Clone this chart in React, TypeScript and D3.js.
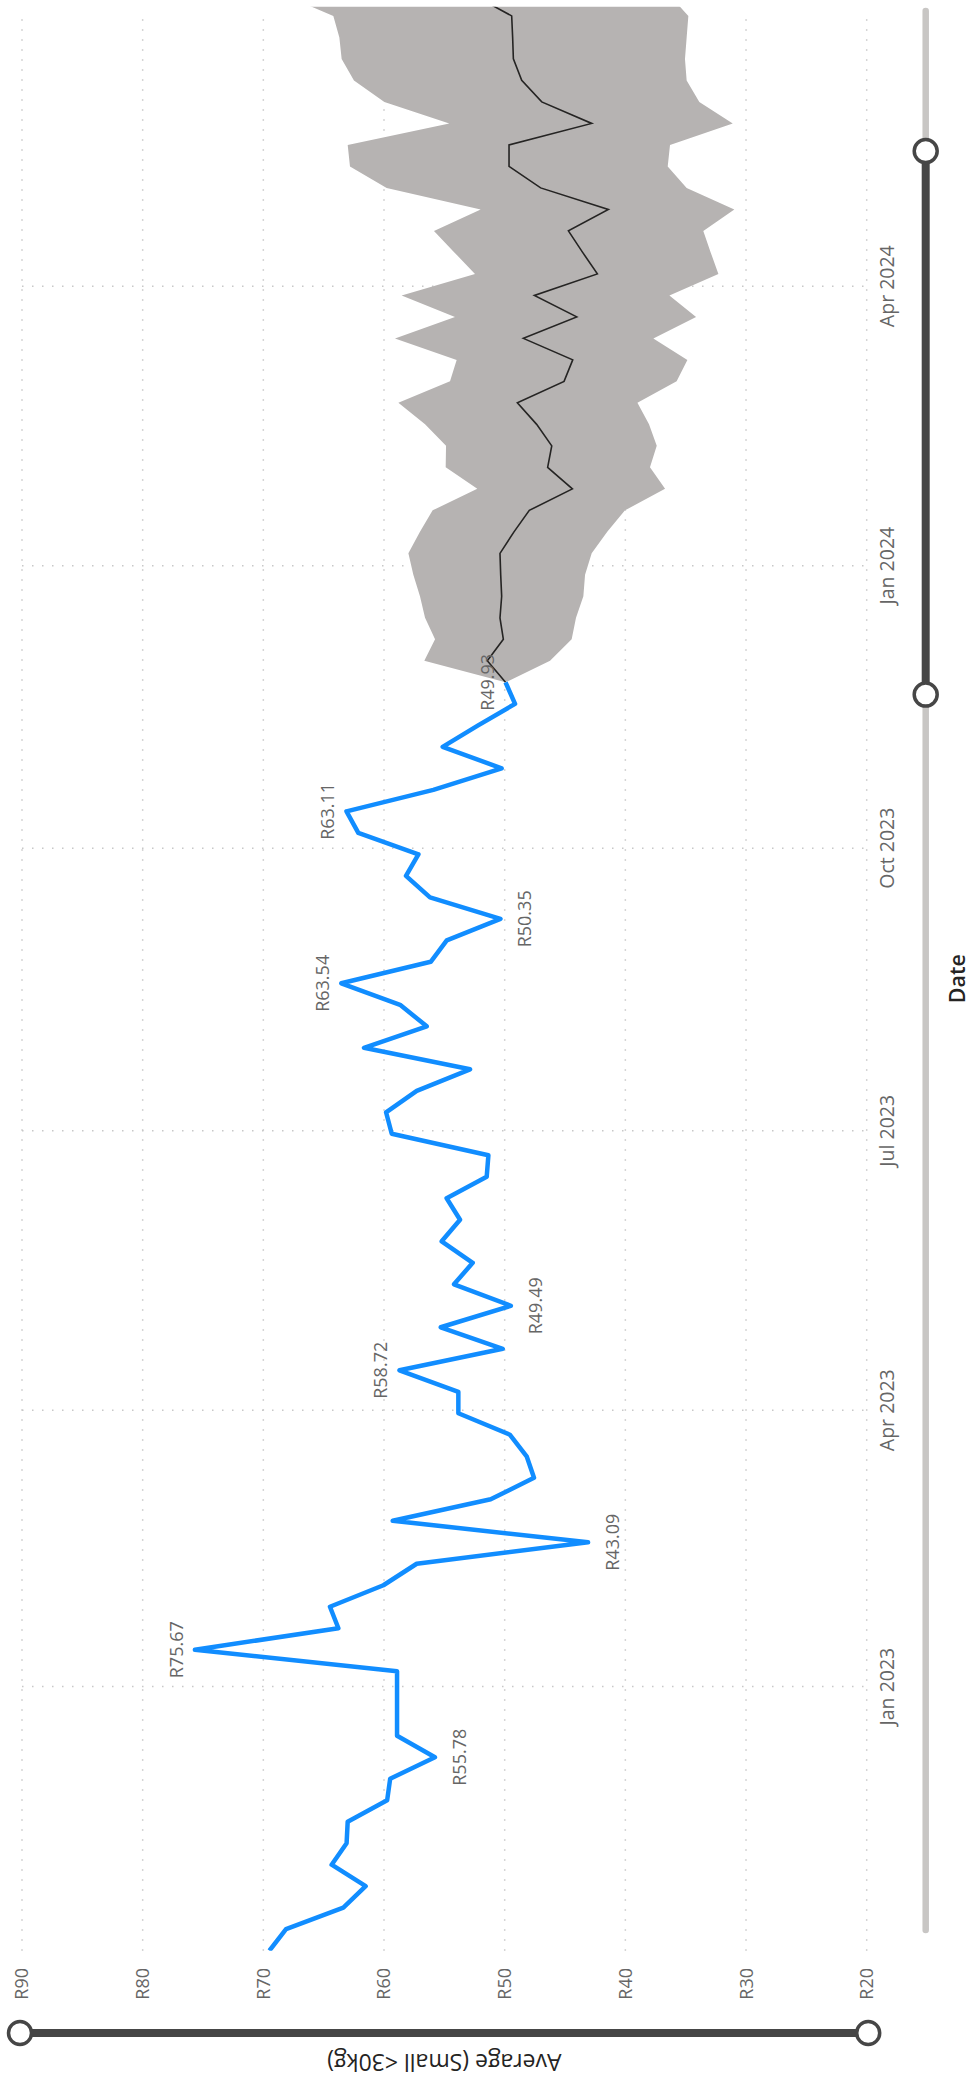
import React from 'react';
import * as d3 from 'd3';

// weekly averages (actual)
const actualDates = [
  '2022-10-07', '2022-10-14', '2022-10-21', '2022-10-28', '2022-11-04', '2022-11-11',
  '2022-11-18', '2022-11-25', '2022-12-02', '2022-12-09', '2022-12-16', '2022-12-23',
  '2022-12-30', '2023-01-06', '2023-01-13', '2023-01-20', '2023-01-27', '2023-02-03',
  '2023-02-10', '2023-02-17', '2023-02-24', '2023-03-03', '2023-03-10', '2023-03-17',
  '2023-03-24', '2023-03-31', '2023-04-07', '2023-04-14', '2023-04-21', '2023-04-28',
  '2023-05-05', '2023-05-12', '2023-05-19', '2023-05-26', '2023-06-02', '2023-06-09',
  '2023-06-16', '2023-06-23', '2023-06-30', '2023-07-07', '2023-07-14', '2023-07-21',
  '2023-07-28', '2023-08-04', '2023-08-11', '2023-08-18', '2023-08-25', '2023-09-01',
  '2023-09-08', '2023-09-15', '2023-09-22', '2023-09-29', '2023-10-06', '2023-10-13',
  '2023-10-20', '2023-10-27', '2023-11-03', '2023-11-10', '2023-11-17', '2023-11-24',
];
const actualValues = [
  69.5, 68.12, 63.37, 61.52, 64.34, 63.1, 63.01, 59.74, 59.49, 55.78,
  58.92, 58.92, 58.92, 58.92, 75.67, 63.78, 64.48, 60.05, 57.29, 43.09,
  59.28, 51.16, 47.57, 48.18, 49.56, 53.84, 53.84, 58.72, 50.16, 55.3,
  49.49, 54.2, 52.65, 55.22, 53.7, 54.81, 51.49, 51.35, 59.36, 59.83,
  57.29, 52.87, 61.66, 56.46, 58.67, 63.54, 56.13, 54.8, 50.35, 56.19,
  58.18, 57.15, 62.13, 63.11, 55.91, 50.25, 55.14, 52.2, 49.14, 49.93,
];

// forecast, starting at the last actual week
const forecastDates = [
  '2023-11-24', '2023-12-01', '2023-12-08', '2023-12-15', '2023-12-22', '2023-12-29',
  '2024-01-05', '2024-01-12', '2024-01-19', '2024-01-26', '2024-02-02', '2024-02-09',
  '2024-02-16', '2024-02-23', '2024-03-01', '2024-03-08', '2024-03-15', '2024-03-22',
  '2024-03-29', '2024-04-05', '2024-04-12', '2024-04-19', '2024-04-26', '2024-05-03',
  '2024-05-10', '2024-05-17', '2024-05-24', '2024-05-31', '2024-06-07', '2024-06-14',
  '2024-06-21', '2024-06-28', '2024-07-05',
];
const forecastValues = [
  49.93, 51.44, 50.11, 50.39, 50.25, 50.33, 50.39, 49.23, 47.96, 44.39, 46.44,
  46.1, 47.35, 48.95, 45.08, 44.36, 48.45, 44.03, 47.54, 42.32, 43.54, 44.72,
  41.41, 47.02, 49.64, 49.64, 42.79, 46.93, 48.59, 49.28, 49.34, 49.42, 52.7,
];
const forecastUpper = [
  49.93, 56.66, 55.77, 56.6, 57.02, 57.57, 57.98, 57.02, 55.97, 52.27, 54.89,
  54.86, 56.6, 58.81, 54.53, 53.98, 59.09, 54.12, 58.54, 52.46, 54.17, 55.86,
  51.99, 59.78, 62.82, 63.01, 54.59, 59.97, 62.49, 63.51, 63.7, 64.2, 68.4,
];
const forecastLower = [
  49.93, 46.24, 44.45, 44.09, 43.48, 43.34, 42.79, 41.5, 40.03, 36.71, 37.96,
  37.4, 38.04, 39.0, 35.75, 34.86, 37.68, 34.14, 36.35, 32.29, 32.93, 33.54,
  30.97, 34.92, 36.49, 36.3, 31.1, 33.87, 34.92, 35.06, 34.92, 34.78, 36.4,
];

// data labels: index into actual series, above / below the line
const labelIndex = [9, 14, 19, 27, 30, 45, 48, 53, 59];
const labelSide = ['below', 'above', 'below', 'above', 'below', 'above', 'below', 'above', 'above'];

const dateTicks = ['2023-01-01', '2023-04-01', '2023-07-01', '2023-10-01', '2024-01-01', '2024-04-01'];
const valueTicks = [20, 30, 40, 50, 60, 70, 80, 90];
const dateDomain = ['2022-10-07', '2024-07-01'];
const sliderRange = ['2023-11-20', '2024-05-15'];

const W = 969;
const H = 2082;
const FONT = "'Segoe UI', 'Open Sans', sans-serif";

type Pt = { date: Date; value: number; lo?: number; hi?: number };

export default function App() {
  const parse = d3.timeParse('%Y-%m-%d');

  // chart is drawn in its normal frame and turned a quarter turn counter-clockwise
  const plotStart = 131.3;
  const plotEnd = 2075.3;
  const x = d3
    .scaleTime()
    .domain(dateDomain.map((d) => parse(d)!))
    .range([plotStart, plotEnd]);
  const y = d3.scaleLinear().domain([20, 90]).range([866.7, 22]);

  const actual: Pt[] = actualDates.map((d, i) => ({ date: parse(d)!, value: actualValues[i] }));
  const forecast: Pt[] = forecastDates.map((d, i) => ({
    date: parse(d)!,
    value: forecastValues[i],
    lo: forecastLower[i],
    hi: forecastUpper[i],
  }));

  const line = d3
    .line<Pt>()
    .x((d) => x(d.date))
    .y((d) => y(d.value));
  const band = d3
    .area<Pt>()
    .x((d) => x(d.date))
    .y0((d) => y(d.lo!))
    .y1((d) => y(d.hi!));

  const dotted = { stroke: '#c8c8c8', strokeWidth: 1.5, strokeDasharray: '1.5 8.5' };
  const sliderV = 925.7;
  const sliderA = x(parse(sliderRange[0])!);
  const sliderB = x(parse(sliderRange[1])!);

  return (
    <svg
      width={W}
      height={H}
      style={{ position: 'absolute', left: 0, top: 0, background: '#fff' }}
      fontFamily={FONT}
    >
      <defs>
        <clipPath id="plot">
          <rect x={plotStart} y={0} width={plotEnd - plotStart} height={969} />
        </clipPath>
      </defs>
      <g transform={`translate(0,${H}) rotate(-90)`}>
        {/* gridlines */}
        {valueTicks.map((t) => (
          <line key={'gy' + t} x1={plotStart} x2={2071} y1={y(t)} y2={y(t)} {...dotted} />
        ))}
        {dateTicks.map((t) => (
          <line
            key={'gx' + t}
            x1={x(parse(t)!)}
            x2={x(parse(t)!)}
            y1={y(90)}
            y2={y(20)}
            {...dotted}
          />
        ))}

        <g clipPath="url(#plot)">
          <path d={band(forecast)!} fill="#b6b3b2" />
          <path d={line(forecast)!} fill="none" stroke="#252423" strokeWidth={1.6} />
          <path
            d={line(actual)!}
            fill="none"
            stroke="#118DFF"
            strokeWidth={4.5}
            strokeLinejoin="round"
          />
        </g>

        {/* data labels */}
        {labelIndex.map((idx, k) => {
          const d = actual[idx];
          const above = labelSide[k] === 'above';
          return (
            <text
              key={'l' + idx}
              x={x(d.date)}
              y={y(d.value) + (above ? -12 : 31)}
              textAnchor="middle"
              fontSize={18}
              fill="#666666"
            >
              {`R${d.value.toFixed(2)}`}
            </text>
          );
        })}

        {/* value axis labels */}
        {valueTicks.map((t) => (
          <text
            key={'ty' + t}
            x={114}
            y={y(t)}
            dy="0.36em"
            textAnchor="end"
            fontSize={18}
            fill="#666666"
          >
            {`R${t}`}
          </text>
        ))}

        {/* date axis labels */}
        {dateTicks.map((t) => (
          <text
            key={'tx' + t}
            x={x(parse(t)!)}
            y={894}
            textAnchor="middle"
            fontSize={19.5}
            fill="#666666"
          >
            {d3.timeFormat('%b %Y')(parse(t)!)}
          </text>
        ))}

        {/* date zoom slider */}
        <line
          x1={152}
          x2={2071}
          y1={sliderV}
          y2={sliderV}
          stroke="#c8c6c4"
          strokeWidth={6.5}
          strokeLinecap="round"
        />
        <line x1={sliderA} x2={sliderB} y1={sliderV} y2={sliderV} stroke="#464646" strokeWidth={8} />
        {[sliderA, sliderB].map((u) => (
          <circle key={'h' + u} cx={u} cy={sliderV} r={11.5} fill="#fff" stroke="#464646" strokeWidth={3.5} />
        ))}

        {/* value zoom slider */}
        <line x1={49} x2={49} y1={y(90) - 2} y2={y(20) + 1.5} stroke="#464646" strokeWidth={8} />
        {[y(90) - 2, y(20) + 1.5].map((v) => (
          <circle key={'v' + v} cx={49} cy={v} r={11.5} fill="#fff" stroke="#464646" strokeWidth={3.5} />
        ))}

        {/* axis titles */}
        <text
          x={(plotStart + plotEnd) / 2}
          y={964.5}
          textAnchor="middle"
          fontSize={21.5}
          fontWeight={600}
          fill="#252423"
        >
          Date
        </text>
        <text
          transform={`translate(28,${(y(90) + y(20)) / 2}) rotate(-90)`}
          textAnchor="middle"
          fontSize={23}
          fill="#252423"
        >
          Average (Small &lt;30kg)
        </text>
      </g>
    </svg>
  );
}
